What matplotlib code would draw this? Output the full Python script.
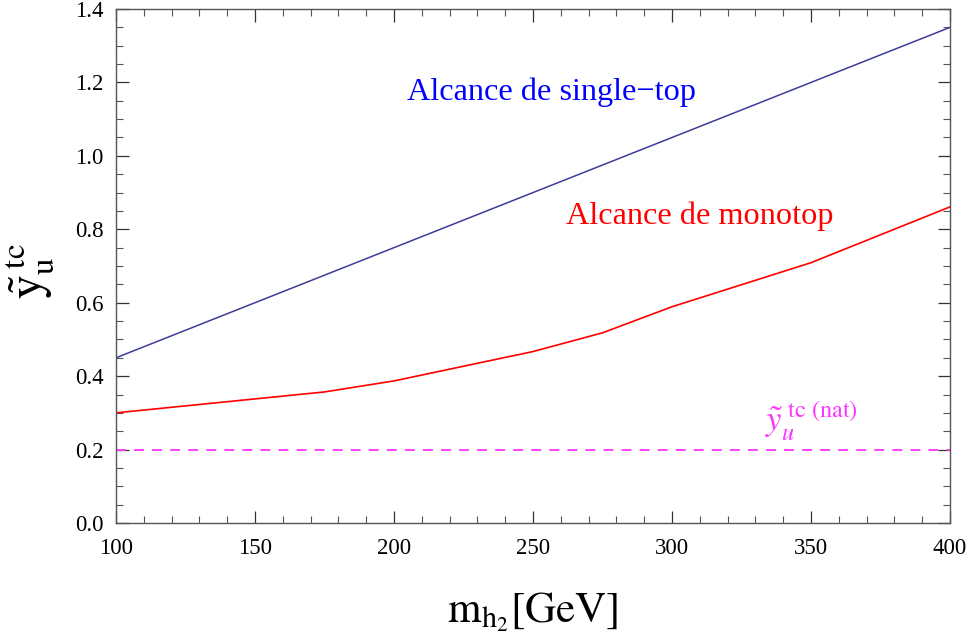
import matplotlib
matplotlib.use("Agg")
import matplotlib.pyplot as plt
from matplotlib.ticker import MultipleLocator

plt.rcParams['font.family'] = ['Liberation Serif', 'DejaVu Serif']
plt.rcParams['mathtext.fontset'] = 'stix'

# Reach curves in the (m_h2, y_u^tc) plane
mass_single = [100, 400]
y_single = [0.45, 1.35]

mass_mono = [100, 175, 200, 250, 275, 300, 350, 400]
y_mono = [0.30, 0.357, 0.387, 0.467, 0.518, 0.589, 0.709, 0.861]

y_natural = 0.2

x_ticks = [100, 150, 200, 250, 300, 350, 400]
y_ticks = [0.0, 0.2, 0.4, 0.6, 0.8, 1.0, 1.2, 1.4]

fig = plt.figure(figsize=(9.72, 6.38), dpi=100)
ax = fig.add_axes([116/972, 1 - 523/638, (950-116)/972, (523-9)/638])

ax.plot(mass_single, y_single, color=(0.24, 0.24, 0.6), lw=1.1)
ax.plot(mass_mono, y_mono, color='red', lw=1.2)
ax.axhline(y_natural, color='#ff33ff', lw=1.3, ls=(0, (5.5, 4.5)))

ax.set_xlim(100, 400)
ax.set_ylim(0, 1.4)
ax.set_xticks(x_ticks)
ax.set_yticks(y_ticks)
ax.set_yticklabels([f"{v:.1f}" for v in y_ticks])
ax.xaxis.set_minor_locator(MultipleLocator(10))
ax.yaxis.set_minor_locator(MultipleLocator(0.05))

for side in ax.spines.values():
    side.set_color('#555555')
    side.set_linewidth(1.0)

ax.tick_params(which='both', direction='in', top=True, right=True,
               labelsize=16.5, colors='#222222')
ax.tick_params(axis='x', which='major', pad=11)
ax.tick_params(axis='y', which='major', pad=9)
ax.tick_params(which='major', length=9, width=0.9, color='#333333')
ax.tick_params(which='minor', length=5, width=0.8, color='#555555')
for lab in ax.get_xticklabels() + ax.get_yticklabels():
    lab.set_color('black')

ax.text(256.8, 1.174, 'Alcance de single\u2212top', color='blue',
        fontsize=23.2, ha='center', va='center')
ax.text(310, 0.836, 'Alcance de monotop', color='red',
        fontsize=23.2, ha='center', va='center')
ax.text(333.5, 0.25, r'$\tilde{y}_{u}^{\ \mathrm{tc\ (nat)}}$', color='#ff33ff',
        fontsize=25, ha='left', va='baseline')

ax.set_xlabel(r'$\mathrm{m}_{\mathrm{h}_2}\mathrm{[GeV]}$', fontsize=31)
ax.xaxis.set_label_coords(0.5, -0.13)
ax.set_ylabel(r'$\tilde{\mathrm{y}}_{\mathrm{u}}^{\;\mathrm{tc}}$', fontsize=34)
ax.yaxis.set_label_coords(-0.071, 0.49)

fig.savefig('out.png', dpi=100)
